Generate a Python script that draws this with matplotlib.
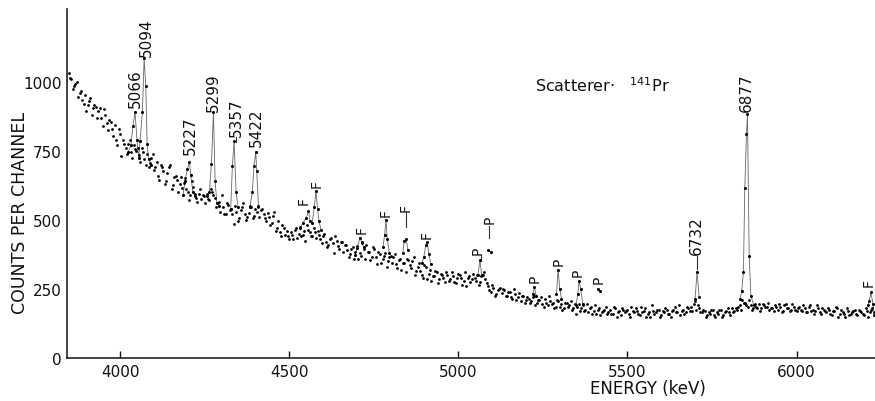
import numpy as np
import matplotlib
matplotlib.use("Agg")
import matplotlib.pyplot as plt

# ---------------- data ----------------
# background spectrum, two interleaved channel sets every 8 keV
bg_step = 8
bg1_start = 3848
bg1_counts = [
    1030, 1010, 985, 1000, 960, 935, 950, 915, 940, 905,
    910, 895, 870, 900, 850, 860, 830, 845, 770, 810,
    790, 760, 775, 745, 770, 750, 735, 760, 720, 740,
    705, 740, 690, 660, 700, 675, 640, 690, 610, 655,
    645, 630, 615, 650, 600, 590, 620, 580, 595, 575,
    585, 595, 570, 600, 580, 560, 530, 545, 520, 555,
    540, 485, 530, 505, 545, 520, 510, 550, 505, 540,
    545, 535, 520, 495, 510, 490, 530, 470, 455, 480,
    445, 440, 455, 430, 470, 450, 440, 460, 480, 455,
    440, 455, 460, 430, 440, 420, 410, 435, 380, 425,
    395, 420, 410, 390, 375, 400, 385, 360, 370, 395,
    410, 385, 365, 395, 340, 375, 360, 380, 350, 370,
    365, 340, 355, 320, 345, 360, 335, 350, 300, 330,
    315, 290, 330, 305, 280, 295, 310, 285, 300, 275,
    300, 285, 295, 270, 305, 290, 280, 260, 295, 285,
    290, 300, 275, 300, 285, 260, 240, 255, 230, 250,
    235, 245, 225, 240, 215, 230, 220, 205, 225, 210,
    215, 205, 225, 200, 210, 195, 215, 190, 205, 200,
    185, 205, 195, 180, 200, 190, 175, 195, 185, 170,
    190, 175, 165, 185, 170, 160, 180, 165, 175, 160,
    175, 160, 180, 165, 155, 175, 170, 160, 185, 165,
    170, 155, 165, 180, 160, 150, 170, 165, 175, 155,
    165, 175, 160, 170, 185, 165, 155, 175, 165, 180,
    185, 195, 175, 180, 165, 170, 155, 160, 175, 150,
    160, 175, 155, 170, 165, 180, 170, 175, 190, 210,
    200, 185, 190, 180, 185, 195, 180, 190, 185, 175,
    180, 190, 175, 185, 170, 195, 180, 175, 185, 170,
    185, 170, 180, 165, 190, 175, 170, 180, 160, 175,
    165, 175, 155, 170, 180, 160, 165, 150, 170, 160,
    170, 160, 175, 165, 155, 170, 165, 180,
]
bg2_start = 3852
bg2_counts = [
    1015, 975, 990, 945, 965, 920, 895, 930, 880, 915,
    870, 905, 840, 880, 825, 855, 805, 790, 830, 730,
    775, 740, 790, 725, 755, 760, 710, 745, 700, 690,
    725, 680, 710, 645, 690, 630, 670, 700, 625, 660,
    600, 655, 635, 610, 570, 640, 595, 565, 610, 590,
    560, 575, 610, 590, 545, 565, 590, 520, 560, 535,
    520, 550, 495, 535, 560, 500, 525, 545, 515, 530,
    510, 540, 505, 525, 480, 515, 460, 495, 440, 470,
    460, 430, 445, 465, 435, 475, 445, 425, 465, 440,
    470, 435, 445, 415, 450, 400, 430, 415, 440, 405,
    420, 385, 410, 365, 395, 360, 405, 380, 415, 360,
    385, 355, 400, 365, 385, 345, 370, 330, 365, 345,
    375, 325, 360, 345, 310, 355, 325, 365, 315, 345,
    300, 335, 285, 320, 295, 315, 270, 305, 290, 310,
    280, 310, 275, 290, 300, 265, 310, 290, 275, 305,
    280, 265, 295, 310, 270, 245, 265, 225, 245, 255,
    250, 225, 240, 220, 250, 210, 235, 225, 200, 220,
    200, 220, 190, 210, 220, 185, 200, 225, 195, 180,
    210, 185, 175, 200, 185, 205, 180, 160, 195, 180,
    170, 195, 180, 160, 190, 175, 155, 170, 185, 165,
    160, 185, 150, 170, 180, 165, 175, 150, 170, 180,
    160, 185, 170, 150, 165, 190, 160, 175, 150, 170,
    180, 160, 150, 175, 165, 190, 170, 160, 185, 170,
    170, 205, 190, 165, 175, 150, 165, 175, 155, 165,
    175, 150, 165, 180, 155, 165, 180, 185, 175, 200,
    190, 210, 175, 195, 180, 170, 195, 185, 200, 180,
    170, 185, 195, 165, 190, 180, 170, 195, 175, 180,
    175, 190, 165, 185, 170, 160, 190, 165, 180, 170,
    180, 160, 170, 185, 150, 175, 160, 180, 155, 165,
    175, 155, 170, 160, 180, 150, 175, 165,
]
bg1_energy = bg1_start + bg_step * np.arange(len(bg1_counts))
bg2_energy = bg2_start + bg_step * np.arange(len(bg2_counts))

# peak regions (energy keV, counts), drawn joined by thin lines
peak_5066_5094_e = [4024, 4032, 4038, 4044, 4050, 4055, 4059, 4066, 4071, 4076, 4080, 4084, 4092]
peak_5066_5094_c = [745, 770, 840, 890, 790, 722, 786, 890, 1085, 983, 773, 720, 700]
peak_5227_e = [4186, 4192, 4199, 4205, 4209, 4215, 4222]
peak_5227_c = [590, 640, 684, 710, 663, 600, 585]
peak_5299_e = [4258, 4264, 4270, 4276, 4281, 4286, 4292]
peak_5299_c = [585, 600, 702, 889, 640, 560, 550]
peak_5357_e = [4327, 4332, 4337, 4343, 4349]
peak_5357_c = [540, 696, 786, 600, 545]
peak_5422_e = [4384, 4391, 4396, 4401, 4404, 4409]
peak_5422_c = [545, 602, 696, 746, 677, 551]
peak_f12_e = [4532, 4541, 4550, 4557, 4562, 4568, 4574, 4579, 4584, 4588, 4594]
peak_f12_c = [470, 490, 505, 532, 497, 490, 545, 603, 540, 495, 465]
peak_f3_e = [4694, 4701, 4709, 4714, 4720]
peak_f3_c = [372, 398, 435, 420, 400]
peak_f4_e = [4777, 4782, 4786, 4790, 4796]
peak_f4_c = [400, 445, 500, 430, 380]
peak_f5_e = [4836, 4840, 4846, 4851]
peak_f5_c = [380, 424, 430, 390]
peak_f6_e = [4892, 4898, 4904, 4908, 4913, 4919]
peak_f6_c = [345, 365, 410, 420, 375, 340]
peak_p1_e = [5058, 5064, 5069]
peak_p1_c = [300, 355, 300]
peak_p2_e = [5087, 5096]
peak_p2_c = [390, 383]
peak_p3_e = [5220, 5225, 5230]
peak_p3_c = [230, 258, 225]
peak_p4_e = [5290, 5295, 5300, 5305]
peak_p4_c = [230, 320, 250, 215]
peak_p5_e = [5348, 5353, 5357, 5362, 5368]
peak_p5_c = [190, 230, 280, 250, 195]
peak_p6_e = [5414, 5419]
peak_p6_c = [250, 243]
peak_6732_e = [5700, 5706, 5712]
peak_6732_c = [215, 312, 220]
peak_6877_e = [5833, 5838, 5843, 5847, 5852, 5855, 5860, 5865, 5874]
peak_6877_c = [215, 243, 312, 614, 810, 882, 368, 225, 190]
peak_f7_e = [6210, 6215, 6220, 6226, 6230]
peak_f7_c = [190, 205, 238, 195, 155]

peaks = [
    (peak_5066_5094_e, peak_5066_5094_c), (peak_5227_e, peak_5227_c),
    (peak_5299_e, peak_5299_c), (peak_5357_e, peak_5357_c),
    (peak_5422_e, peak_5422_c), (peak_f12_e, peak_f12_c),
    (peak_f3_e, peak_f3_c), (peak_f4_e, peak_f4_c), (peak_f5_e, peak_f5_c),
    (peak_f6_e, peak_f6_c), (peak_p1_e, peak_p1_c), (peak_p2_e, peak_p2_c),
    (peak_p3_e, peak_p3_c), (peak_p4_e, peak_p4_c), (peak_p5_e, peak_p5_c),
    (peak_p6_e, peak_p6_c), (peak_6732_e, peak_6732_c),
    (peak_6877_e, peak_6877_c), (peak_f7_e, peak_f7_c),
]

# energy labels: text, energy position, counts at label bottom
energy_labels = ["5066", "5094", "5227", "5299", "5357", "5422", "6732", "6877"]
energy_label_x = [4044, 4077, 4207, 4275, 4343, 4402, 5704, 5851]
energy_label_y = [908, 1092, 738, 893, 803, 767, 376, 893]

# F / P markers
fp_labels = ["F", "F", "F", "F", "F", "F", "P", "P", "P", "P", "P", "P", "F"]
fp_x = [4542, 4581, 4714, 4786, 4845, 4907, 5056, 5092, 5227, 5296, 5352, 5414, 6212]
fp_y = [557, 620, 454, 514, 533, 436, 376, 488, 276, 336, 298, 273, 259]

# leader lines (energy, from counts, to counts)
leader_x = [4343, 5706, 4845, 5066, 5092]
leader_top = [798, 370, 528, 374, 478]
leader_bot = [780, 322, 475, 352, 436]

x_ticks = [4000, 4500, 5000, 5500, 6000]
y_ticks = [0, 250, 500, 750, 1000]

# ---------------- figure ----------------
plt.rcParams['font.family'] = ['DejaVu Sans']
W, H = 875, 402
fig = plt.figure(figsize=(W / 100, H / 100), dpi=100)
ax = fig.add_axes([67 / W, (H - 359) / H, (875 - 67) / W, (359 - 10) / H])

for e, c in peaks:
    ax.plot(e, c, color='#666666', lw=0.6, zorder=2)
    ax.plot(e, c, ls='none', marker='o', ms=2.2, mfc='black', mec='black', mew=0, zorder=3)

for e, c in [(bg1_energy, bg1_counts), (bg2_energy, bg2_counts)]:
    ax.plot(e, c, ls='none', marker='o', ms=2.0, mfc='black', mec='black', mew=0, zorder=3)

for t, x, y in zip(energy_labels, energy_label_x, energy_label_y):
    ax.text(x, y, t, rotation=90, ha='center', va='bottom', fontsize=11, color='#111111')

for t, x, y in zip(fp_labels, fp_x, fp_y):
    ax.text(x, y, t, rotation=90, ha='center', va='bottom', fontsize=10, color='#111111')

for x, t, b in zip(leader_x, leader_top, leader_bot):
    ax.plot([x, x], [b, t], color='#333333', lw=0.8)

ax.text(5227, 966, r'Scatterer$\cdot$   $^{141}$Pr', fontsize=11.5, ha='left', va='baseline', color='#111111')

ax.set_xlim(3843, 6232)
ax.set_ylim(0, 1263)
ax.set_xticks(x_ticks)
ax.set_yticks(y_ticks)
ax.tick_params(axis='x', direction='in', length=5, width=1, labelsize=11, pad=4, colors='#111111')
ax.tick_params(axis='y', direction='in', length=0, labelsize=11, pad=4, colors='#111111')
for s in ['top', 'right']:
    ax.spines[s].set_visible(False)
for s in ['left', 'bottom']:
    ax.spines[s].set_linewidth(1.2)
    ax.spines[s].set_color('#222222')

fig.text(20 / W, 1 - 213 / H, 'COUNTS PER CHANNEL', rotation=90, ha='center', va='center', fontsize=12.5, color='#111111')
fig.text(648 / W, 1 - 389 / H, 'ENERGY (keV)', ha='center', va='center', fontsize=12, color='#111111')

fig.savefig('out.png', dpi=100, facecolor='white')
